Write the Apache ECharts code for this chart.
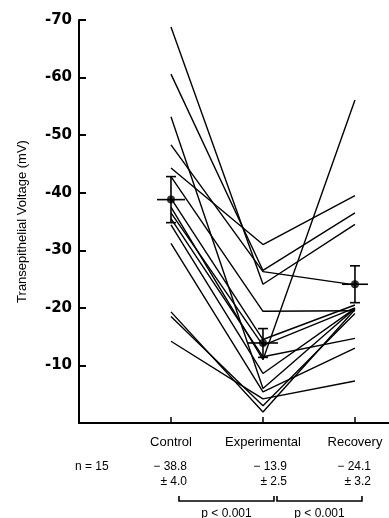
<!DOCTYPE html>
<html>
<head>
<meta charset="utf-8">
<script src="https://cdn.jsdelivr.net/npm/echarts@6/dist/echarts.min.js"></script>
<style>
html,body{margin:0;padding:0;background:#fff;}
#chart{width:389px;height:518px;}
</style>
</head>
<body>
<div id="chart"></div>
<script>
const categories = ['Control', 'Experimental', 'Recovery'];
const categoryPos = [1, 2, 3];
const controlVals = [-68.8, -60.6, -53.2, -48.3, -44.3, -42.8, -39.0, -37.5, -36.5, -35.5, -34.4, -31.2, -19.3, -18.5, -14.2];
const expVals     = [-24.1, -26.5, -6.0, -26.3, -31.0, -19.4, -14.5, -11.0, -13.5, -11.5, -8.6, -5.4, -1.9, -3.0, -4.2];
const recVals     = [-34.5, -36.5, -19.9, -24.0, -39.5, -19.5, -20.5, -56.1, -20.0, -14.7, -19.9, -13.0, -19.7, -19.0, -7.3];
const meanVals = [-38.8, -13.9, -24.1];
const semVals = [4.0, 2.5, 3.2];
const meanText = ['\u2212 38.8', '\u2212 13.9', '\u2212 24.1'];
const semText = ['\u00b1 4.0', '\u00b1 2.5', '\u00b1 3.2'];
const nText = 'n = 15';
const pLabels = ['p < 0.001', 'p < 0.001'];
const yTicks = [-70, -60, -50, -40, -30, -20, -10];

const FONT = '"Liberation Sans", Arial, Helvetica, sans-serif';
const chart = echarts.init(document.getElementById('chart'));

const lineSeries = controlVals.map((c, i) => ({
  type: 'line',
  data: [[categoryPos[0], c], [categoryPos[1], expVals[i]], [categoryPos[2], recVals[i]]],
  symbol: 'none',
  lineStyle: { color: '#000', width: 1.4 },
  silent: true,
  animation: false,
  z: 2
}));

const halfW = [14, 15, 13];
const errSeries = {
  type: 'custom',
  animation: false,
  z: 5,
  data: meanVals.map((m, i) => [categoryPos[i], m, semVals[i], halfW[i]]),
  renderItem: function (params, api) {
    const x = api.value(0), m = api.value(1), s = api.value(2), hw = api.value(3);
    const top = api.coord([x, m - s]);
    const bot = api.coord([x, m + s]);
    const mid = api.coord([x, m]);
    const st = { stroke: '#000', lineWidth: 1.6 };
    return {
      type: 'group',
      children: [
        { type: 'line', shape: { x1: top[0], y1: top[1], x2: bot[0], y2: bot[1] }, style: st },
        { type: 'line', shape: { x1: top[0] - 5, y1: top[1], x2: top[0] + 5, y2: top[1] }, style: st },
        { type: 'line', shape: { x1: bot[0] - 5, y1: bot[1], x2: bot[0] + 5, y2: bot[1] }, style: st },
        { type: 'line', shape: { x1: mid[0] - hw, y1: mid[1], x2: mid[0] + hw, y2: mid[1] }, style: st }
      ]
    };
  }
};

const meanSeries = {
  type: 'scatter',
  data: meanVals.map((m, i) => [categoryPos[i], m]),
  symbol: 'circle',
  symbolSize: 8,
  itemStyle: { color: '#000' },
  animation: false,
  z: 6
};

chart.setOption({
  animation: false,
  grid: { left: 79, right: 0, top: 20, bottom: 95 },
  xAxis: {
    type: 'value',
    min: 0,
    max: 3.37,
    interval: 1,
    splitLine: { show: false },
    axisLine: { lineStyle: { color: '#000', width: 2 } },
    axisTick: { inside: true, length: 6, customValues: categoryPos, lineStyle: { color: '#000', width: 1.5 } },
    axisLabel: {
      margin: 13,
      color: '#000',
      fontFamily: FONT,
      fontSize: 13,
      customValues: categoryPos,
      formatter: v => { const k = categoryPos.indexOf(v); return k >= 0 ? categories[k] : ''; }
    }
  },
  yAxis: {
    type: 'value',
    min: -70,
    max: 0,
    interval: 10,
    inverse: true,
    name: 'Transepithelial Voltage (mV)',
    nameLocation: 'middle',
    nameGap: 50,
    nameTextStyle: { color: '#000', fontFamily: FONT, fontSize: 13 },
    splitLine: { show: false },
    axisLine: { lineStyle: { color: '#000', width: 2 } },
    axisTick: { inside: true, length: 7, customValues: yTicks, lineStyle: { color: '#000', width: 2 } },
    axisLabel: {
      margin: 7,
      color: '#000',
      fontFamily: '"DejaVu Sans", sans-serif',
      fontSize: 15,
      fontWeight: 'bold',
      customValues: yTicks,
      formatter: v => (yTicks.indexOf(v) >= 0 ? String(v) : '')
    }
  },
  series: lineSeries.concat([errSeries, meanSeries])
});

// Bottom annotations aligned to the category positions
const px = categoryPos.map(p => chart.convertToPixel({ xAxisIndex: 0 }, p));
const txt = (x, y, t, align) => ({
  type: 'text', x: x, y: y,
  style: { text: t, fill: '#000', font: '12px ' + FONT, textAlign: align || 'right', textVerticalAlign: 'middle' }
});
const g = [];
g.push(txt(75, 467, nText, 'left'));
const rightEdge = [187, 287, 371];
const offs = rightEdge.map((r, i) => r - px[i]);
for (let i = 0; i < 3; i++) {
  g.push(txt(px[i] + offs[i], 467, meanText[i], 'right'));
  g.push(txt(px[i] + offs[i], 482, semText[i], 'right'));
}
const by = 501, bh = 5;
const br = [[px[0] + 8, px[1] + 11], [px[1] + 14, px[2] + 7]];
br.forEach((b, i) => {
  g.push({
    type: 'polyline',
    shape: { points: [[b[0], by - bh], [b[0], by], [b[1], by], [b[1], by - bh]] },
    style: { stroke: '#000', lineWidth: 1.6, fill: null }
  });
  g.push(txt((b[0] + b[1]) / 2, 514, pLabels[i], 'center'));
});
chart.setOption({ graphic: g });
</script>
</body>
</html>
